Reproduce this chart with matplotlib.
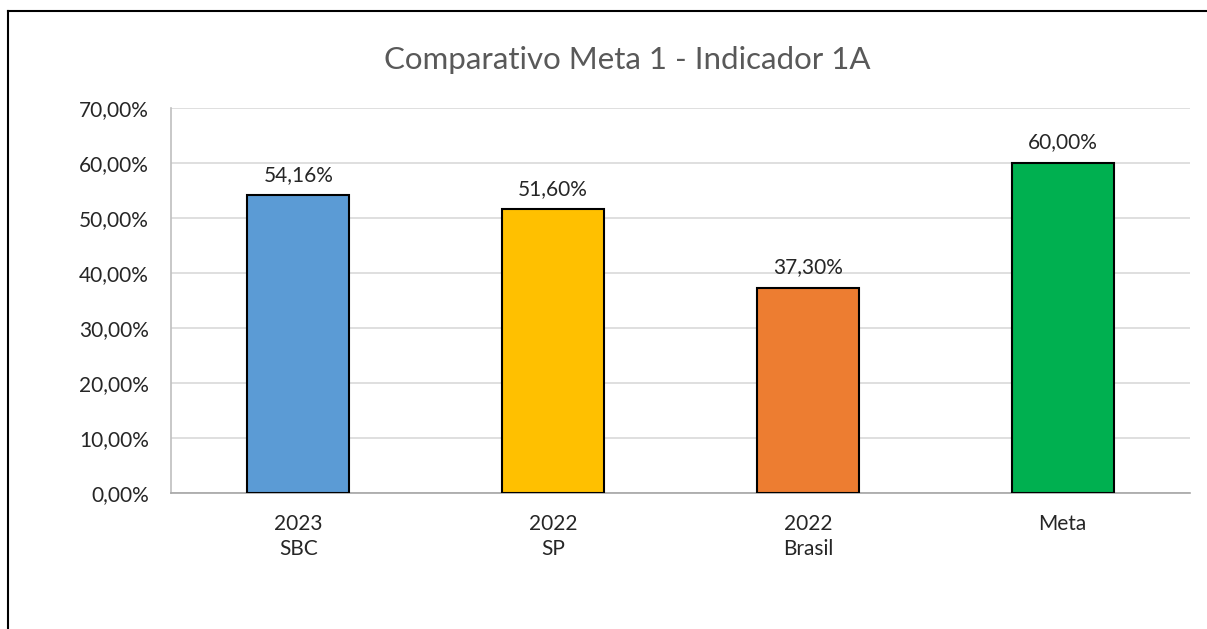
import numpy as np
import matplotlib.pyplot as plt
from matplotlib.lines import Line2D

# dati del grafico
categorie = ['2023\nSBC', '2022\nSP', '2022\nBrasil', 'Meta']
valori = [54.16, 51.60, 37.30, 60.00]
colori = ['#5B9BD5', '#FFC000', '#ED7D31', '#00B050']
yticks = [0, 10, 20, 30, 40, 50, 60, 70]

plt.rcParams['font.family'] = ['Lato', 'DejaVu Sans']

W, H = 1207, 629
fig = plt.figure(figsize=(W / 100, H / 100), dpi=100)
ax = fig.add_axes([171 / W, 1 - 493 / H, (1190 - 171) / W, (493 - 108) / H])

x = np.arange(len(categorie))
ax.bar(x, valori, width=0.4, color=colori, edgecolor='black', linewidth=1.5, zorder=3)

for xi, v in zip(x, valori):
    ax.text(xi, v + 1.9, f'{v:.2f}%'.replace('.', ','), ha='center', va='bottom',
            fontsize=15, color='#262626')

ax.set_xlim(-0.5, len(categorie) - 0.5)
ax.set_ylim(0, 70)
ax.set_yticks(yticks)
ax.set_yticklabels([f'{t:.2f}%'.replace('.', ',') for t in yticks], fontsize=15, color='#262626')
ax.set_xticks(x)
ax.set_xticklabels(categorie, fontsize=15, color='#262626', linespacing=1.3)
ax.tick_params(axis='both', length=0)
ax.tick_params(axis='y', pad=16)
ax.tick_params(axis='x', pad=15)
ax.yaxis.grid(True, color='#D9D9D9', linewidth=1.2, zorder=0)
ax.set_axisbelow(True)
for s in ['top', 'right']:
    ax.spines[s].set_visible(False)
ax.spines['left'].set_color('#BFBFBF')
ax.spines['bottom'].set_color('#A6A6A6')
ax.spines['left'].set_linewidth(1.2)
ax.spines['bottom'].set_linewidth(1.2)

fig.text(627 / W, 1 - 60 / H, 'Comparativo Meta 1 - Indicador 1A', ha='center', va='center',
         fontsize=22.5, color='#595959')

# bordo del grafico
fig.add_artist(Line2D([7.5 / W, 7.5 / W], [0, 1 - 10.5 / H], color='black', linewidth=1.5,
                      transform=fig.transFigure))
fig.add_artist(Line2D([7.5 / W, 1], [1 - 10.5 / H, 1 - 10.5 / H], color='black', linewidth=1.5,
                      transform=fig.transFigure))

fig.savefig('out.png', dpi=100)
